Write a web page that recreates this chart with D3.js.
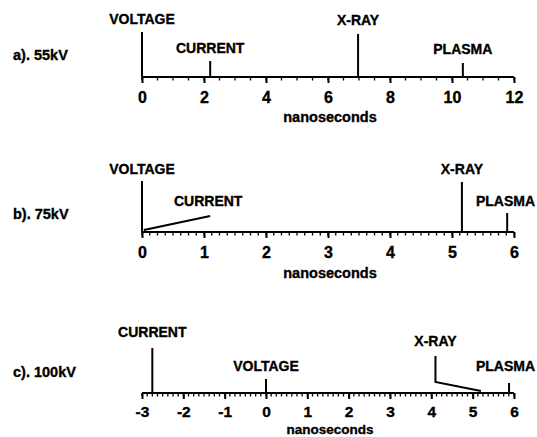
<!DOCTYPE html>
<html>
<head>
<meta charset="utf-8">
<script src="https://d3js.org/d3.v7.min.js"></script>
<style>
  body { margin: 0; background: #fff; }
  text { font-family: "Liberation Sans", Arial, sans-serif; font-weight: bold; fill: #000; stroke: #000; stroke-width: 0.35px; }
</style>
</head>
<body>
<script>
// panel data
var panelNames = ["a). 55kV", "b). 75kV", "c). 100kV"];
var domains = [[0, 12], [0, 6], [-3, 6]];
var majorTicks = [
  [0, 2, 4, 6, 8, 10, 12],
  [0, 1, 2, 3, 4, 5, 6],
  [-3, -2, -1, 0, 1, 2, 3, 4, 5, 6]
];
var minorStep = [0.5, 0.125, 0.125];
var eventNames = ["VOLTAGE", "CURRENT", "X-RAY", "PLASMA"];
// time of each event (ns) in each panel
var times55 = [0, 2.2, 6.97, 10.35];
var times75 = [0, 0.03, 5.16, 5.89];
var times100 = [0, -2.75, 5.2, 5.88];
// where the label sits (ns) when it is pulled off the event
var labelAt55 = [0, 2.2, 6.97, 10.35];
var labelAt75 = [0, 1.1, 5.16, 5.89];
var labelAt100 = [0, -2.75, 4.1, 5.88];

var times = [times55, times75, times100];
var labelAt = [labelAt55, labelAt75, labelAt100];

// layout per panel: axis y, marker heights and label heights (px above axis)
var layout = [
  { y: 77, lineH: [45, 16, 43, 14], bendH: [0, 0, 0, 0], labH: [58, 29, 57, 28], nameH: 22, unitY: 40, pad: 9, tickFs: 16, unitFs: 14.5 },
  { y: 232, lineH: [51, 0, 50, 19], bendH: [0, 16, 0, 0], labH: [63, 31, 63, 31], nameH: 18, unitY: 41, pad: 9, tickFs: 16, unitFs: 14.5 },
  { y: 393, lineH: [14, 45, 37, 10], bendH: [0, 0, 11, 0], labH: [27, 61, 52, 27], nameH: 21, unitY: 36, pad: 7, tickFs: 15.5, unitFs: 13.5 }
];

var W = 537, H = 437;
var svg = d3.select("body").append("svg")
  .attr("width", W).attr("height", H);

panelNames.forEach(function(name, i) {
  var L = layout[i];
  var x = d3.scaleLinear().domain(domains[i]).range([142, 514]);
  var g = svg.append("g").attr("transform", "translate(0," + L.y + ")");

  // minor ticks
  var minors = d3.range(domains[i][0], domains[i][1] + 1e-9, minorStep[i]);
  g.selectAll(".minor").data(minors).enter().append("line")
    .attr("x1", function(d) { return x(d); }).attr("x2", function(d) { return x(d); })
    .attr("y1", 0).attr("y2", 3.5)
    .attr("stroke", "#000").attr("stroke-width", 1.3);

  var axis = d3.axisBottom(x).tickValues(majorTicks[i]).tickSize(6).tickPadding(L.pad)
    .tickFormat(function(d) { return String(d); });
  var ax = g.append("g").call(axis);
  ax.select(".domain").attr("stroke-width", 2.2).attr("d", "M" + x(domains[i][0]) + ",0H" + x(domains[i][1]));
  ax.selectAll(".tick line").attr("stroke-width", 2);
  ax.selectAll(".tick text").attr("font-size", L.tickFs).attr("font-family", "Liberation Sans, Arial")
    .attr("font-weight", "bold").attr("fill", "#000");

  g.append("text").attr("x", 330).attr("y", L.unitY).attr("dy", "0.35em")
    .attr("text-anchor", "middle").attr("font-size", L.unitFs).text("nanoseconds");

  svg.append("text").attr("x", 13).attr("y", L.y - L.nameH).attr("dy", "0.35em")
    .attr("font-size", 14.5).text(name);

  // event markers
  eventNames.forEach(function(ev, k) {
    var t = times[i][k], lx = labelAt[i][k];
    var pts;
    if (lx === t) {
      pts = [[x(t), 0], [x(t), -L.lineH[k]]];
    } else {
      pts = [[x(t), -2], [x(lx), -L.bendH[k]]];
      if (L.lineH[k] > 0) pts.push([x(lx), -L.lineH[k]]);
    }
    g.append("path").attr("d", d3.line()(pts))
      .attr("fill", "none").attr("stroke", "#000").attr("stroke-width", 2);
    var tx = x(lx);
    if (i === 1 && k === 1) tx = x(lx) - 2;
    var lab = g.append("text").attr("x", tx).attr("y", -L.labH[k]).attr("dy", "0.35em")
      .attr("text-anchor", "middle").attr("font-size", 14).text(ev);
    var half = lab.node().getComputedTextLength() / 2;
    if (tx + half > W - 2) lab.attr("x", W - 2 - half);
  });
});
</script>
</body>
</html>
